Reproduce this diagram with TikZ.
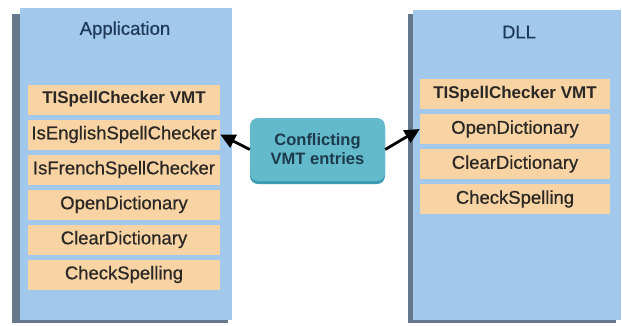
\documentclass[tikz,border=0pt]{standalone}
\usepackage{fontspec}
\setmainfont{Liberation Sans}
\newfontfamily\semibold{Liberation Sans}[BoldFont=Liberation Sans, BoldFeatures={FakeBold=0.6}]
\usetikzlibrary{arrows.meta}
\definecolor{panel}{HTML}{A2C9EC}
\definecolor{panelshade}{HTML}{66798C}
\definecolor{entry}{HTML}{F8D4A4}
\definecolor{note}{HTML}{62BACB}
\definecolor{noteshade}{HTML}{3C9CB6}
\definecolor{ink}{HTML}{2A2724}
\definecolor{title}{HTML}{1F3A58}
\definecolor{noteink}{HTML}{1D3A4C}
\tikzset{
  panelbox/.style={fill=panel, draw=none},
  shade/.style={fill=panelshade, draw=none},
  entryrow/.style={fill=entry, draw=none, minimum height=30pt, inner sep=0pt, text=ink, font=\semibold\bfseries\fontsize{18.5}{20}\selectfont},
  lentry/.style={entryrow, minimum width=192pt},
  rentry/.style={entryrow, minimum width=190pt},
  head/.style={font=\bfseries\fontsize{17}{19}\selectfont},
  ttl/.style={text=title, font=\semibold\bfseries\fontsize{18.5}{20}\selectfont},
  note/.style={fill=note, rounded corners=8pt, text=noteink, font=\bfseries\fontsize{16.5}{19}\selectfont, align=center, minimum width=135pt, minimum height=63pt, inner sep=0pt},
  arr/.style={draw=black, line width=2.8pt, -{Triangle[length=15pt,width=14pt]}}
}

\begin{document}
\begin{tikzpicture}[x=1pt, y=-1pt]
  \useasboundingbox[fill=white] (0,0) rectangle (622,325);

  % panels
  \fill[shade] (12,14) rectangle (228,323);
  \fill[panelbox] (20,8) rectangle (232,320);
  \fill[shade] (408,14) rectangle (616,323);
  \fill[panelbox] (413,10) rectangle (621,320);

  \node[ttl] (app) at (125,30) {Application};
  \node[ttl] (dll) at (519,32) {DLL};

  % application VMT
  \node[lentry, head] (lvmt) at (124,99.5) {TISpellChecker VMT};
  \node[lentry] (leng) at (124,134.5) {IsEnglishSpellChecker};
  \node[lentry] (lfre) at (124,169.5) {IsFrenchSpellChecker};
  \node[lentry] (lopen) at (124,204.5) {OpenDictionary};
  \node[lentry] (lclear) at (124,239.5) {ClearDictionary};
  \node[lentry] (lcheck) at (124,274.5) {CheckSpelling};

  % DLL VMT
  \node[rentry, head] (rvmt) at (515,94) {TISpellChecker VMT};
  \node[rentry] (ropen) at (515,129) {OpenDictionary};
  \node[rentry] (rclear) at (515,164) {ClearDictionary};
  \node[rentry] (rcheck) at (515,199) {CheckSpelling};

  % note
  \fill[noteshade, rounded corners=8pt] (250,122) rectangle (385,184);
  \node[note] (conflict) at (317.5,149.5) {Conflicting\\VMT entries};

  \draw[arr] (conflict.west) -- (leng.east);
  \draw[arr] (conflict.east) -- (ropen.west);
\end{tikzpicture}
\end{document}
